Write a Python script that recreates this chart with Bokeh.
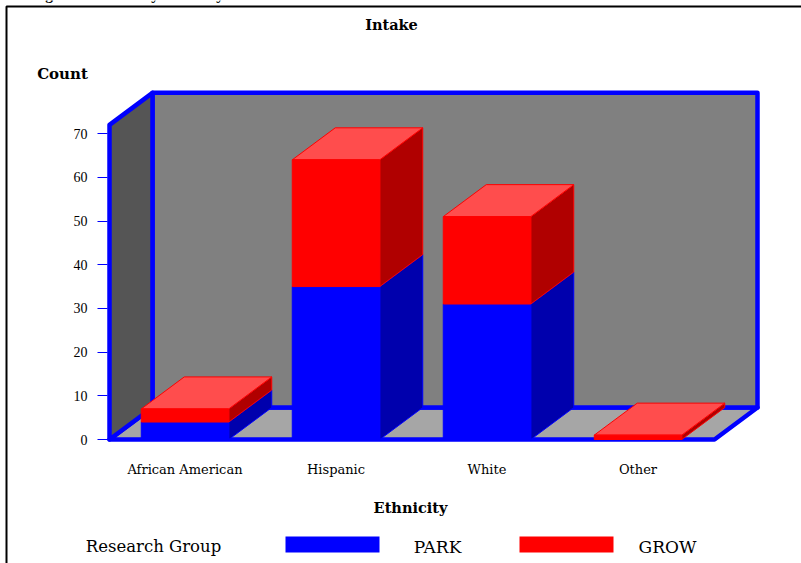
from bokeh.core.properties import value
from bokeh.embed import file_html
from bokeh.models import FixedTicker, LinearAxis, Range1d
from bokeh.plotting import figure
from bokeh.resources import INLINE

# Chart content
categories = ["African American", "Hispanic", "White", "Other"]
park = [4, 35, 31, 0]
grow = [3, 29, 20, 1]
y_ticks = [0, 10, 20, 30, 40, 50, 60, 70]
series_names = ["PARK", "GROW"]

# Canvas and scale setup: one category step and one count in pixels
W, H = 801, 563
PX_PER_CAT = 151.0
PX_PER_COUNT = 4.37
X0_PX, Y0_PX = 184.5, 439.0
BAR_W = 87.5 / PX_PER_CAT
DX = 43 / PX_PER_CAT
DY = 32 / PX_PER_COUNT
AXIS_TOP = 72.0
SERIF = "DejaVu Serif"
TICK_FONT = "Liberation Serif"

BLUE, BLUE_SIDE = "#0000ff", "#0000ad"
RED, RED_SIDE, RED_TOP = "#ff0000", "#b00000", "#ff4d4d"
WALL_BACK, WALL_LEFT, FLOOR = "#808080", "#555555", "#a6a6a6"


def px_x(px):
    return (px - X0_PX) / PX_PER_CAT


def px_y(py):
    return (Y0_PX - py) / PX_PER_COUNT


p = figure(
    width=W, height=H, output_backend="svg", toolbar_location=None,
    x_axis_type=None, y_axis_type=None,
    x_range=Range1d(px_x(0), px_x(W)), y_range=Range1d(px_y(H), px_y(0)),
    min_border=0, min_border_left=0, min_border_right=0,
    min_border_top=0, min_border_bottom=0,
    outline_line_color=None, background_fill_color="white",
)
p.grid.visible = False

# Page frame around the chart
p.line([px_x(6), px_x(6), px_x(W + 5)], [px_y(H + 5), px_y(6), px_y(6)],
       line_color="black", line_width=2)

# Cut-off heading above the frame
p.text([px_x(31)], [px_y(-6)], text=["Figure 3: Intake by Ethnicity"],
       text_font=value("Liberation Serif"), text_font_style="bold", text_font_size="15.5px",
       text_baseline="alphabetic", text_color="black")

# Room: floor, back wall and left wall, each with a heavy blue edge
left = px_x(109)
right = px_x(714)
p.patch([left, right, right + DX, left + DX], [0, 0, DY, DY],
        fill_color=FLOOR, line_color=BLUE, line_width=4.5, line_join="round")
p.patch([left + DX, right + DX, right + DX, left + DX],
        [DY, DY, AXIS_TOP + DY, AXIS_TOP + DY],
        fill_color=WALL_BACK, line_color=BLUE, line_width=4.5, line_join="round")
p.patch([left, left + DX, left + DX, left],
        [0, DY, AXIS_TOP + DY, AXIS_TOP],
        fill_color=WALL_LEFT, line_color=BLUE, line_width=4.5, line_join="round")


def box(cx, bottom, top, front, side, cap, edge):
    """Draw one extruded bar segment between two counts."""
    x0 = cx - BAR_W / 2
    x1 = cx + BAR_W / 2
    p.patch([x1, x1 + DX, x1 + DX, x1], [bottom, bottom + DY, top + DY, top],
            fill_color=side, line_color=edge, line_width=1)
    p.patch([x0, x1, x1 + DX, x0 + DX], [top, top, top + DY, top + DY],
            fill_color=cap, line_color=edge, line_width=1)
    p.patch([x0, x1, x1, x0], [bottom, bottom, top, top],
            fill_color=front, line_color=edge, line_width=1)


for i, (a, b) in enumerate(zip(park, grow)):
    if a > 0:
        box(i, 0, a, BLUE, BLUE_SIDE, BLUE, BLUE)
    box(i, a, a + b, RED, RED_SIDE, RED_TOP, RED)

# Count axis sits at the front-left corner of the room
y_axis = LinearAxis(fixed_location=px_x(107), ticker=FixedTicker(ticks=y_ticks))
y_axis.axis_line_color = None
y_axis.major_tick_line_color = BLUE
y_axis.major_tick_line_width = 1
y_axis.major_tick_out = 10
y_axis.major_tick_in = 0
y_axis.minor_tick_line_color = None
y_axis.major_label_standoff = 10
y_axis.major_label_text_font = TICK_FONT
y_axis.major_label_text_font_size = "14px"
y_axis.major_label_text_color = "black"
p.add_layout(y_axis, "left")

# Ethnicity axis carries only the category names under the floor
x_axis = LinearAxis(fixed_location=0, ticker=FixedTicker(ticks=list(range(len(categories)))))
x_axis.major_label_overrides = {i: c for i, c in enumerate(categories)}
x_axis.axis_line_color = None
x_axis.major_tick_line_color = None
x_axis.minor_tick_line_color = None
x_axis.major_label_standoff = 16
x_axis.major_label_text_font = SERIF
x_axis.major_label_text_font_size = "13px"
x_axis.major_label_text_color = "black"
p.add_layout(x_axis, "below")


def label(px, py, s, size, style="bold"):
    p.text([px_x(px)], [px_y(py)], text=[s], text_font=value(SERIF),
           text_font_style=style, text_font_size=size, text_align="center",
           text_baseline="middle", text_color="black")


label(391, 24, "Intake", "14.5px")
label(62, 73, "Count", "15px")
label(410, 507, "Ethnicity", "14.5px")
label(153, 546, "Research Group", "16.5px", "normal")

# Legend row
for name, color, px0, text_px in zip(series_names, [BLUE, RED], [285, 519], [437, 667]):
    p.quad(left=[px_x(px0)], right=[px_x(px0 + 94)],
           bottom=[px_y(552)], top=[px_y(536)],
           fill_color=color, line_color=None)
    label(text_px, 546, name, "17px", "normal")

open("out.html", "w").write(file_html(p, INLINE))
